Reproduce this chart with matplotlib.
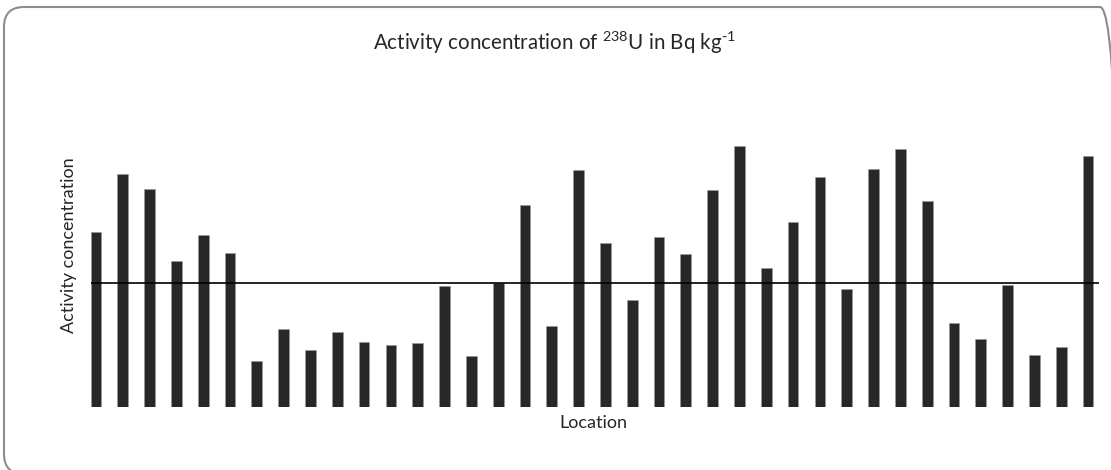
import numpy as np
import matplotlib.pyplot as plt
from matplotlib.patches import FancyBboxPatch
from matplotlib.transforms import IdentityTransform

plt.rcParams['font.family'] = ['Lato', 'DejaVu Sans']

# activity concentration per location (Bq/kg)
locations = list(range(1, 39))
activity = [49.4, 65.6, 61.6, 41.2, 48.4, 43.5, 12.9, 21.8, 15.9, 21.1,
            18.2, 17.5, 17.9, 34.0, 14.2, 35.0, 56.9, 22.7, 66.8, 46.1,
            30.0, 47.8, 43.1, 61.3, 73.6, 39.2, 52.1, 64.9, 33.3, 67.1,
            72.7, 58.0, 23.5, 19.2, 34.3, 14.5, 16.8, 70.8]
reference_level = 35.0

fig = plt.figure(figsize=(11.11, 4.70), dpi=100)
ax = fig.add_axes([0.0743, 0.1351, 0.9171, 0.6021])

x = np.arange(len(locations))
ax.bar(x, activity, width=0.4, color='#282828', edgecolor='#9a9a9a', linewidth=0.4)
ax.hlines(reference_level, -0.2, 37.4, color='black', linewidth=1.2, zorder=3)

ax.set_xlim(-0.5, len(locations) - 0.5)
ax.set_ylim(0, 80)
ax.set_xticks([])
ax.set_yticks([])
for s in ax.spines.values():
    s.set_visible(False)
ax.patch.set_alpha(0)

fig.text(554 / 1111, 1 - 43 / 470,
         r'Activity concentration of $\mathregular{^{238}}$U in Bq kg$\mathregular{^{\text{-}1}}$',
         ha='center', va='center', fontsize=14.8, color='#262626')
fig.text(593 / 1111, 1 - 423 / 470, 'Location', ha='center', va='center', fontsize=13, color='#262626')
fig.text(69 / 1111, 1 - 245 / 470, 'Activity concentration', ha='center', va='center',
         rotation=90, fontsize=13, color='#262626')

# rounded chart border, in pixels (right and bottom edges fall outside the image)
border = FancyBboxPatch((4, -4), 1116, 467,
                        boxstyle='round,pad=0,rounding_size=20', transform=IdentityTransform(),
                        facecolor='none', edgecolor='#8c8c8c', linewidth=1.5, clip_on=False)
fig.patches.append(border)

fig.savefig('out.png', dpi=100)
